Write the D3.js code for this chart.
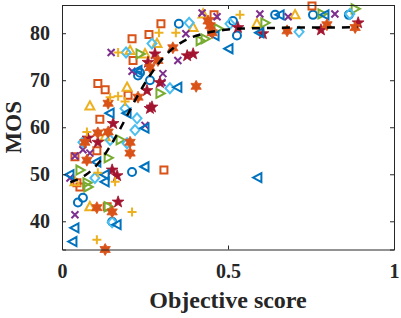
<!DOCTYPE html>
<html>
<head>
<meta charset="utf-8">
<script src="https://cdn.jsdelivr.net/npm/d3@7"></script>
<style>
  body { margin: 0; background: #fff; }
  text { font-family: "Liberation Serif", "Times New Roman", serif; font-weight: bold; fill: #262626; }
</style>
</head>
<body>
<div id="chart"></div>
<script>
const WIDTH = 401;
const HEIGHT = 318;
const MARGIN = { LEFT: 62, RIGHT: 7, TOP: 5, BOTTOM: 68.5 };

// DATA : [objective score, MOS]
const circleData = [[0.352,82.0],[0.527,79.5],[0.515,82.6],[0.642,83.9],[0.756,83.9],[0.864,83.9],[0.229,71.0],[0.265,70.0],[0.235,71.6],[0.211,50.5],[0.063,45.0],[0.048,44.0],[0.151,39.9]];
const squareData = [[0.298,82.0],[0.211,78.8],[0.262,79.7],[0.458,83.9],[0.753,85.8],[0.108,69.3],[0.13,68.0],[0.199,66.8],[0.214,74.2],[0.114,61.7],[0.105,55.0],[0.039,53.7],[0.045,48.2],[0.054,47.3],[0.136,43.1],[0.307,50.9]];
const triUpData = [[0.425,84.1],[0.702,83.9],[0.587,82.0],[0.395,81.2],[0.205,76.3],[0.25,75.6],[0.286,77.8],[0.196,68.5],[0.084,64.5],[0.13,58.0],[0.084,43.1],[0.039,48.4]];
const crossData = [[0.422,84.3],[0.467,83.5],[0.596,84.1],[0.681,83.5],[0.822,84.1],[0.148,75.9],[0.211,71.9],[0.301,69.5],[0.304,71.4],[0.373,79.9],[0.349,74.2],[0.25,60.4],[0.063,55.2],[0.084,54.5],[0.039,53.9],[0.024,49.2],[0.039,41.4]];
const triRightData = [[0.783,84.1],[0.883,85.2],[0.611,82.2],[0.47,81.0],[0.416,78.4],[0.431,78.8],[0.235,75.6],[0.295,67.2],[0.175,57.3],[0.139,53.5],[0.054,50.9],[0.075,48.2],[0.078,47.3],[0.139,43.1]];
const diamondData = [[0.383,82.2],[0.506,82.0],[0.867,84.1],[0.714,80.3],[0.193,75.9],[0.271,77.8],[0.325,68.3],[0.19,64.0],[0.226,61.9],[0.22,59.4],[0.145,57.3],[0.063,56.8],[0.196,56.6],[0.099,49.2],[0.151,39.8]];
const pentagramData = [[0.78,80.7],[0.892,82.2],[0.53,81.2],[0.605,79.9],[0.395,75.6],[0.377,75.2],[0.28,75.6],[0.259,73.8],[0.256,67.8],[0.295,69.5],[0.265,64.0],[0.271,64.3],[0.154,60.8],[0.108,56.8],[0.078,57.7],[0.151,50.9],[0.166,49.7],[0.169,44.1]];
const triLeftData = [[0.657,83.9],[0.792,83.9],[0.596,80.1],[0.461,79.5],[0.503,76.7],[0.229,72.1],[0.349,68.5],[0.145,63.0],[0.196,63.0],[0.25,59.8],[0.105,52.6],[0.25,51.6],[0.13,49.9],[0.024,49.9],[0.13,48.4],[0.59,49.3],[0.166,39.3],[0.039,38.6],[0.033,35.7]];
const hexagramData = [[0.678,80.5],[0.798,81.8],[0.883,81.2],[0.446,81.6],[0.44,82.6],[0.452,80.1],[0.334,76.9],[0.289,74.2],[0.265,72.7],[0.229,66.4],[0.404,68.7],[0.139,65.1],[0.108,58.8],[0.139,59.0],[0.069,56.8],[0.205,56.8],[0.205,54.5],[0.075,53.0],[0.105,42.9],[0.151,42.0],[0.13,34.0]];
const plusData = [[0.536,83.9],[0.292,80.1],[0.343,80.1],[0.169,75.9],[0.145,66.4],[0.169,66.6],[0.19,65.5],[0.075,59.0],[0.108,50.3],[0.16,48.4],[0.211,42.0],[0.105,36.1]];

// fitted curve
const fitX = [0.025,0.05,0.08,0.11,0.14,0.17,0.20,0.23,0.26,0.29,0.32,0.35,0.38,0.42,0.46,0.50,0.55,0.62,0.70,0.80,0.89];
const fitY = [48.3,49.0,50.3,52.4,55.4,59.0,63.0,67.0,70.5,73.5,75.9,77.6,78.8,79.8,80.4,80.8,81.0,81.1,81.2,81.2,81.3];

const xTicks = [0, 0.5, 1];
const yTicks = [40, 50, 60, 70, 80];

// MATLAB-ish marker order and colours
const series = [
  { data: circleData, marker: "o", color: "#0072BD" },
  { data: squareData, marker: "s", color: "#D95319" },
  { data: triUpData, marker: "^", color: "#EDB120" },
  { data: crossData, marker: "x", color: "#7E2F8E" },
  { data: triRightData, marker: ">", color: "#77AC30" },
  { data: diamondData, marker: "d", color: "#4DBEEE" },
  { data: pentagramData, marker: "p", color: "#A2142F" },
  { data: triLeftData, marker: "<", color: "#0072BD" },
  { data: hexagramData, marker: "h", color: "#D95319" },
  { data: plusData, marker: "+", color: "#EDB120" },
];

const W = WIDTH - MARGIN.LEFT - MARGIN.RIGHT;
const H = HEIGHT - MARGIN.TOP - MARGIN.BOTTOM;

const svg = d3
  .select("#chart")
  .append("svg")
  .attr("width", WIDTH)
  .attr("height", HEIGHT);

svg.append("rect").attr("width", WIDTH).attr("height", HEIGHT).attr("fill", "#fff");

const chart = svg
  .append("g")
  .attr("transform", `translate(${MARGIN.LEFT}, ${MARGIN.TOP})`);

const x = d3.scaleLinear().domain([0, 1]).range([0, W]);
const y = d3.scaleLinear().domain([34, 86]).range([H, 0]);

function starPath(n, ro, ri) {
  const pts = [];
  for (let i = 0; i < 2 * n; i++) {
    const r = i % 2 === 0 ? ro : ri;
    const a = -Math.PI / 2 + (i * Math.PI) / n;
    pts.push([r * Math.cos(a), r * Math.sin(a)]);
  }
  return "M" + pts.map((p) => p.join(",")).join("L") + "Z";
}

function markerPath(m) {
  switch (m) {
    case "o": return "M4,0A4,4 0 1,1 -4,0A4,4 0 1,1 4,0Z";
    case "s": return "M-3.5,-3.5L3.5,-3.5L3.5,3.5L-3.5,3.5Z";
    case "^": return "M0,-4.8L4.5,3.5L-4.5,3.5Z";
    case ">": return "M4.8,0L-3.5,-4.5L-3.5,4.5Z";
    case "<": return "M-4.8,0L3.5,-4.5L3.5,4.5Z";
    case "d": return "M0,-5L4.5,0L0,5L-4.5,0Z";
    case "x": return "M-3.5,-3.5L3.5,3.5M-3.5,3.5L3.5,-3.5";
    case "+": return "M-4.5,0L4.5,0M0,-4.5L0,4.5";
    case "p": return starPath(5, 6.2, 2.5);
    case "h": return starPath(6, 6, 3.4);
  }
}

// MARKERS
series.forEach((s) => {
  const filled = s.marker === "p" || s.marker === "h";
  chart
    .append("g")
    .selectAll("path")
    .data(s.data)
    .join("path")
    .attr("transform", (d) => `translate(${x(d[0])}, ${y(d[1])})`)
    .attr("d", markerPath(s.marker))
    .attr("fill", filled ? s.color : "none")
    .attr("stroke", s.color)
    .attr("stroke-width", filled ? 0.8 : 2)
    .attr("stroke-linejoin", "miter");
});

// FIT LINE
const fitData = fitX.map((v, i) => [v, fitY[i]]);
chart
  .append("path")
  .datum(fitData)
  .attr("fill", "none")
  .attr("stroke", "#000")
  .attr("stroke-width", 2.5)
  .attr("stroke-dasharray", "8,7")
  .attr("d", d3.line().x((d) => x(d[0])).y((d) => y(d[1])).curve(d3.curveMonotoneX));

// AXIS (box with inward ticks)
chart
  .append("g")
  .attr("transform", `translate(0, ${H})`)
  .call(d3.axisBottom(x).tickValues(xTicks).tickSize(-4).tickPadding(14).tickFormat((d) => d))
  .call((g) => g.selectAll("text").style("font-size", "20px"));
chart
  .append("g")
  .call(d3.axisLeft(y).tickValues(yTicks).tickSize(-4).tickPadding(12))
  .call((g) => g.selectAll("text").style("font-size", "20px"));
chart
  .append("g")
  .call(d3.axisTop(x).tickValues(xTicks).tickSize(-4).tickFormat(""));
chart
  .append("g")
  .attr("transform", `translate(${W}, 0)`)
  .call(d3.axisRight(y).tickValues(yTicks).tickSize(-4).tickFormat(""));

chart.selectAll(".domain, .tick line").attr("stroke", "#262626").attr("stroke-width", 1);
chart.selectAll(".tick text").attr("fill", "#262626").style("font-family", "Liberation Serif").style("font-weight", "bold");

// LABELS
svg
  .append("text")
  .attr("x", MARGIN.LEFT + W / 2)
  .attr("y", 308)
  .attr("text-anchor", "middle")
  .attr("font-size", "24px")
  .text("Objective score");

svg
  .append("text")
  .attr("transform", `translate(21, ${MARGIN.TOP + H / 2}) rotate(-90)`)
  .attr("text-anchor", "middle")
  .attr("font-size", "23px")
  .text("MOS");
</script>
</body>
</html>
